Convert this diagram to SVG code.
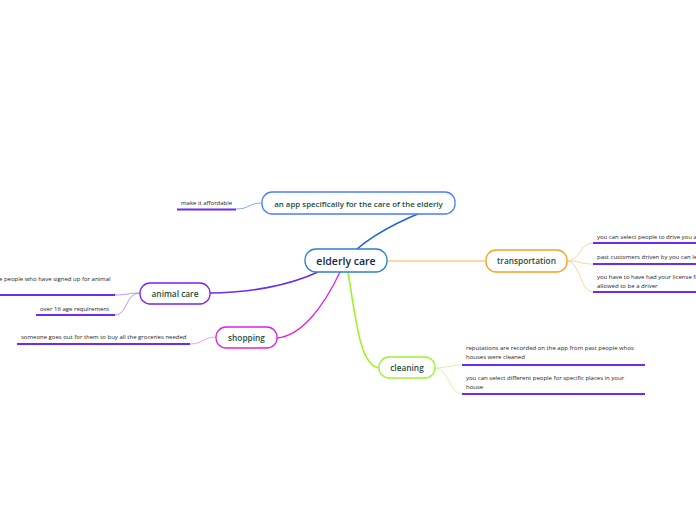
<svg xmlns="http://www.w3.org/2000/svg" width="696" height="520" viewBox="0 0 696 520">
<style>
.node{fill:#fff;stroke-width:1.3}
.lbl{font-family:"Open Sans","Noto Sans",sans-serif;font-weight:600;fill:#1b4d3e;text-anchor:middle}
.leaf{font-family:"Open Sans","Noto Sans",sans-serif;font-size:6px;fill:#222}
.ul{stroke:#6a2cf5;stroke-width:2;fill:none}
.c{fill:none}
</style>
<rect width="696" height="520" fill="#fff"/>
<g id="connectors">
<path class="c" d="M357 249 C385 225 425 210 455 200" stroke="#1f5fe0" stroke-width="1.6"/>
<path class="c" d="M318 272 C290 285 250 293 210 293" stroke="#6a2cf0" stroke-width="1.6"/>
<path class="c" d="M340 272 C322 310 300 336 277 338" stroke="#e020e0" stroke-width="1.3"/>
<path class="c" d="M348 272 C356 320 360 366 379 368" stroke="#a0f030" stroke-width="1.6"/>
<path class="c" d="M387 261 L486 261" stroke="#f5a020" stroke-width="0.8"/>
<path class="c" d="M236 209 C250 209 248 203 262 203" stroke="#6b8ff0" stroke-width="0.8"/>
<path class="c" d="M115 295 C128 295 128 293 140 293" stroke="#a080f5" stroke-width="0.8"/>
<path class="c" d="M115 315 C128 315 125 293 140 293" stroke="#a080f5" stroke-width="0.8"/>
<path class="c" d="M190 344 C203 344 203 337 216 337" stroke="#f080f0" stroke-width="0.8"/>
<path class="c" d="M435 368 C448 368 450 365 462 365" stroke="#c8f090" stroke-width="0.8"/>
<path class="c" d="M435 368 C448 368 450 394 462 394" stroke="#c8f090" stroke-width="0.8"/>
<path class="c" d="M567 261 C580 261 580 243 593 243" stroke="#f8c880" stroke-width="0.8"/>
<path class="c" d="M567 261 C580 261 580 264 593 264" stroke="#f8c880" stroke-width="0.8"/>
<path class="c" d="M567 261 C580 261 580 292 593 292" stroke="#f8c880" stroke-width="0.8"/>
</g>
<g id="central">
<rect class="node" x="305" y="249" width="82" height="23" rx="11" stroke="#2f7fcc"/>
<text class="lbl" x="346" y="264.5" font-size="10.5" font-weight="700" style="fill:#0d2a4d">elderly care</text>
</g>
<g id="app">
<rect class="node" x="262" y="192" width="193" height="22" rx="10" stroke="#4a7cff"/>
<text class="lbl" x="358.5" y="206.5" font-size="7.9">an app specifically for the care of the elderly</text>
</g>
<g id="affordable">
<text class="leaf" x="181" y="205">make it affordable</text>
<line class="ul" x1="177" y1="209.5" x2="236" y2="209.5"/>
</g>
<g id="animal">
<rect class="node" x="140" y="283" width="70" height="21" rx="10" stroke="#7a22ee"/>
<text class="lbl" x="175" y="297" font-size="8.3">animal care</text>
</g>
<g id="animal-leaf1">
<text class="leaf" x="-1" y="281">e people who have signed up for animal</text>
<line class="ul" x1="0" y1="295" x2="115" y2="295"/>
</g>
<g id="animal-leaf2">
<text class="leaf" x="40" y="311">over 16 age requirement</text>
<line class="ul" x1="36" y1="315" x2="115" y2="315"/>
</g>
<g id="shopping">
<rect class="node" x="216" y="327" width="61" height="21" rx="10" stroke="#e020e0"/>
<text class="lbl" x="246.5" y="341" font-size="8.3">shopping</text>
</g>
<g id="shopping-leaf">
<text class="leaf" x="21" y="339">someone goes out for them to buy all the groceries needed</text>
<line class="ul" x1="17" y1="344" x2="190" y2="344"/>
</g>
<g id="cleaning">
<rect class="node" x="379" y="357" width="56" height="21" rx="10" stroke="#a0f030"/>
<text class="lbl" x="407" y="371" font-size="8.3">cleaning</text>
</g>
<g id="cleaning-leaf1">
<text class="leaf" x="466" y="350">reputations are recorded on the app from past people whos</text>
<text class="leaf" x="466" y="359">houses were cleaned</text>
<line class="ul" x1="462" y1="365" x2="645" y2="365"/>
</g>
<g id="cleaning-leaf2">
<text class="leaf" x="466" y="380">you can select different people for specific places in your</text>
<text class="leaf" x="466" y="389">house</text>
<line class="ul" x1="462" y1="394" x2="645" y2="394"/>
</g>
<g id="transportation">
<rect class="node" x="486" y="250" width="81" height="22" rx="10" stroke="#f5a020"/>
<text class="lbl" x="526.5" y="264" font-size="8.3">transportation</text>
</g>
<g id="transport-leaf1">
<text class="leaf" x="597" y="239">you can select people to drive you a</text>
<line class="ul" x1="593" y1="243" x2="696" y2="243"/>
</g>
<g id="transport-leaf2">
<text class="leaf" x="597" y="259">past customers driven by you can le</text>
<line class="ul" x1="593" y1="264" x2="696" y2="264"/>
</g>
<g id="transport-leaf3">
<text class="leaf" x="597" y="279">you have to have had your license fo</text>
<text class="leaf" x="597" y="288">allowed to be a driver</text>
<line class="ul" x1="593" y1="292" x2="696" y2="292"/>
</g>
</svg>
